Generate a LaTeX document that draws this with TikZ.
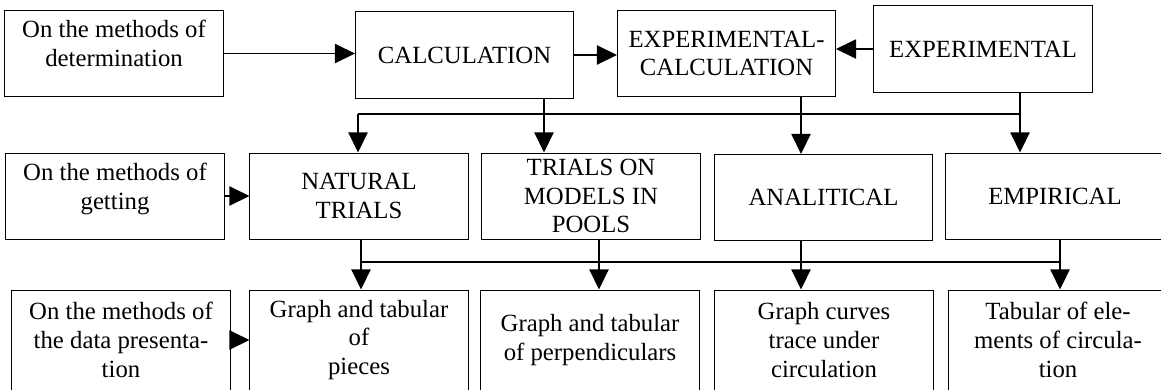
\documentclass[tikz,border=0pt]{standalone}
\usepackage{fontspec}
\setmainfont{Liberation Serif}
\usetikzlibrary{arrows.meta}

\begin{document}
\begin{tikzpicture}[x=0.025cm, y=-0.025cm,
    box/.style={draw=black, line width=0.7pt, align=center, inner sep=2pt,
        minimum width=5.45cm, minimum height=2.15cm,
        font=\fontsize{17.6}{20.5}\selectfont},
    lowbox/.style={box, minimum height=2.5cm},
    arr/.style={-{Triangle[length=0.5cm, width=0.48cm]}, line width=0.9pt},
    bus/.style={line width=0.9pt}]
    \clip (0,0) rectangle (1161,389);

    % Methods of determination
    \node[box, text depth=14pt] (det) at (114,53.5) {On the methods of\\determination};
    \node[box] (calc) at (464.5,55) {CALCULATION};
    \node[box] (expcalc) at (726.5,53.5) {EXPERIMENTAL-\\CALCULATION};
    \node[box] (exper) at (983,49) {EXPERIMENTAL};

    % Methods of getting
    \node[box, text depth=14pt] (get) at (115,196) {On the methods of\\getting};
    \node[box] (natural) at (359,196) {NATURAL\\TRIALS};
    \node[box] (models) at (591,196) {TRIALS ON\\MODELS IN\\POOLS};
    \node[box] (analit) at (823.5,197.5) {ANALITICAL};
    \node[box] (empir) at (1055,196) {EMPIRICAL};

    % Methods of the data presentation
    \node[lowbox] (present) at (121,340) {On the methods of\\the data presenta-\\tion};
    \node[lowbox] (pieces) at (359,340) {Graph and tabular\\of\\pieces};
    \node[lowbox] (perp) at (590,340) {Graph and tabular\\of perpendiculars};
    \node[lowbox] (curves) at (824,340) {Graph curves\\trace under\\circulation};
    \node[lowbox] (tabul) at (1058,340) {Tabular of ele-\\ments of circula-\\tion};

    % Row connections
    \draw[arr] (det.east) -- (det.east -| calc.west);
    \draw[arr] (calc.east) -- (calc.east -| expcalc.west);
    \draw[arr] (exper.west) -- (exper.west -| expcalc.east);
    \draw[arr] (get.east) -- (get.east -| natural.west);
    \draw[arr] (present.east) -- (present.east -| pieces.west);

    % Upper bus
    \coordinate (b1) at (358,114);
    \coordinate (b2) at (544,114);
    \coordinate (b3) at (801,114);
    \coordinate (b4) at (1020,114);
    \draw[bus] (b1) -- (b4);
    \draw[arr] (b1) -- (b1 |- natural.north);
    \draw[arr] (b2 |- calc.south) -- (b2 |- models.north);
    \draw[arr] (b3 |- expcalc.south) -- (b3 |- analit.north);
    \draw[arr] (b4 |- exper.south) -- (b4 |- empir.north);

    % Lower bus
    \coordinate (c1) at (361,262);
    \coordinate (c2) at (599,262);
    \coordinate (c3) at (801,262);
    \coordinate (c4) at (1060,262);
    \draw[bus] (c1) -- (c4);
    \draw[arr] (c1 |- natural.south) -- (c1 |- pieces.north);
    \draw[arr] (c2 |- models.south) -- (c2 |- perp.north);
    \draw[arr] (c3 |- analit.south) -- (c3 |- curves.north);
    \draw[arr] (c4 |- empir.south) -- (c4 |- tabul.north);
\end{tikzpicture}
\end{document}
